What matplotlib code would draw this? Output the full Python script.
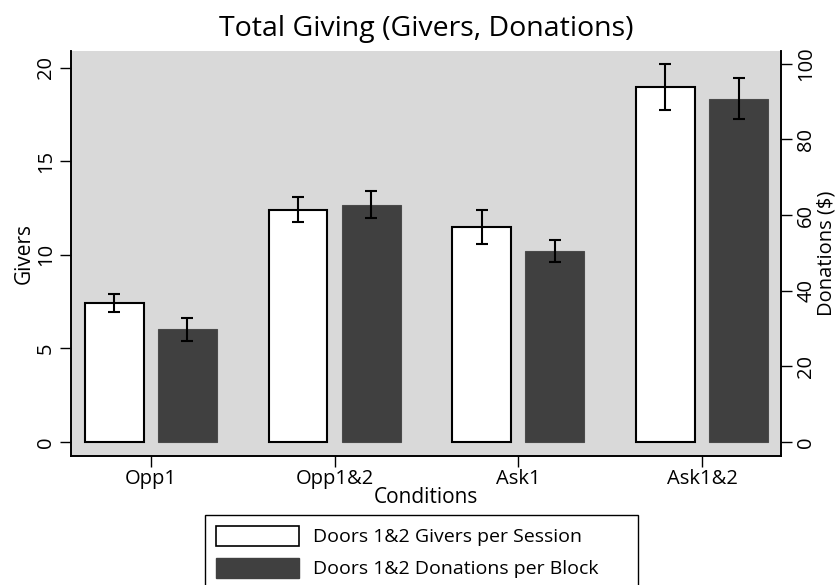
import matplotlib
matplotlib.use('Agg')
import matplotlib.pyplot as plt
import numpy as np
from matplotlib.patches import Patch

plt.rcParams['font.family'] = ['Open Sans', 'DejaVu Sans']
plt.rcParams['font.size'] = 12

# Данные по условиям
conditions = ['Opp1', 'Opp1&2', 'Ask1', 'Ask1&2']
givers = [7.42, 12.41, 11.5, 18.97]
givers_err = [0.48, 0.67, 0.9, 1.25]
donations = [29.8, 62.8, 50.5, 90.8]
donations_err = [3.0, 3.6, 2.9, 5.5]

bg_gray = '#d9d9d9'
dark = '#404040'

fig = plt.figure(figsize=(8.38, 5.85), dpi=100)
ax = fig.add_axes([0.0847, 0.2205, 0.8473, 0.6923])
ax2 = ax.twinx()

x = np.arange(len(conditions))
w = 0.32
off = 0.199

ax.set_facecolor(bg_gray)
ax2.patch.set_visible(False)

# белые — дарители (левая ось), тёмные — пожертвования (правая ось)
ax.bar(x - off, givers, width=w, color='white', edgecolor='black', linewidth=1.5, zorder=2)
ax.errorbar(x - off, givers, yerr=givers_err, fmt='none', ecolor='black',
            elinewidth=1.5, capsize=4, capthick=1.5, zorder=3)
ax2.bar(x + off, donations, width=w, color=dark, edgecolor='#4a4a4a', linewidth=0.8, zorder=2)
ax2.errorbar(x + off, donations, yerr=donations_err, fmt='none', ecolor='black',
             elinewidth=1.5, capsize=4, capthick=1.5, zorder=3)

ax.set_xlim(-0.435, 3.43)
ax.set_ylim(-0.75, 20.9)
ax2.set_ylim(-3.7, 103.4)

ax.set_yticks([0, 5, 10, 15, 20])
ax2.set_yticks([0, 20, 40, 60, 80, 100])
ax.set_xticks(x)
ax.set_xticklabels(conditions, fontsize=14.5)

for a in (ax, ax2):
    a.tick_params(axis='y', labelrotation=90, labelsize=14.5, length=8, width=1, pad=3)
    a.spines['top'].set_visible(False)
    for s in ('left', 'right', 'bottom'):
        a.spines[s].set_linewidth(1.2)
for lbl in ax.get_yticklabels() + ax2.get_yticklabels():
    lbl.set_va('center')
ax.tick_params(axis='x', length=8, width=1, pad=1)

ax.set_ylabel('Givers', fontsize=15, labelpad=1)
ax2.set_ylabel('Donations ($)', fontsize=14.5, labelpad=0)
ax.set_xlabel('Conditions', fontsize=15, labelpad=-1)

ax.set_title('Total Giving (Givers, Donations)', fontsize=20.5, pad=11)

handles = [Patch(facecolor='white', edgecolor='black', linewidth=1.2),
           Patch(facecolor=dark, edgecolor=dark)]
leg = fig.legend(handles, ['Doors 1&2 Givers per Session', 'Doors 1&2 Donations per Block'],
                 loc='upper left', bbox_to_anchor=(0.2446, 0.0, 0.5167, 0.1197),
                 mode='expand', borderaxespad=0, fontsize=14, handlelength=4.3,
                 handleheight=1.2, labelspacing=0.6, borderpad=0.55, handletextpad=0.7,
                 fancybox=False, framealpha=1, edgecolor='black')
leg.get_frame().set_linewidth(1.0)

fig.savefig('out.png', dpi=100)
